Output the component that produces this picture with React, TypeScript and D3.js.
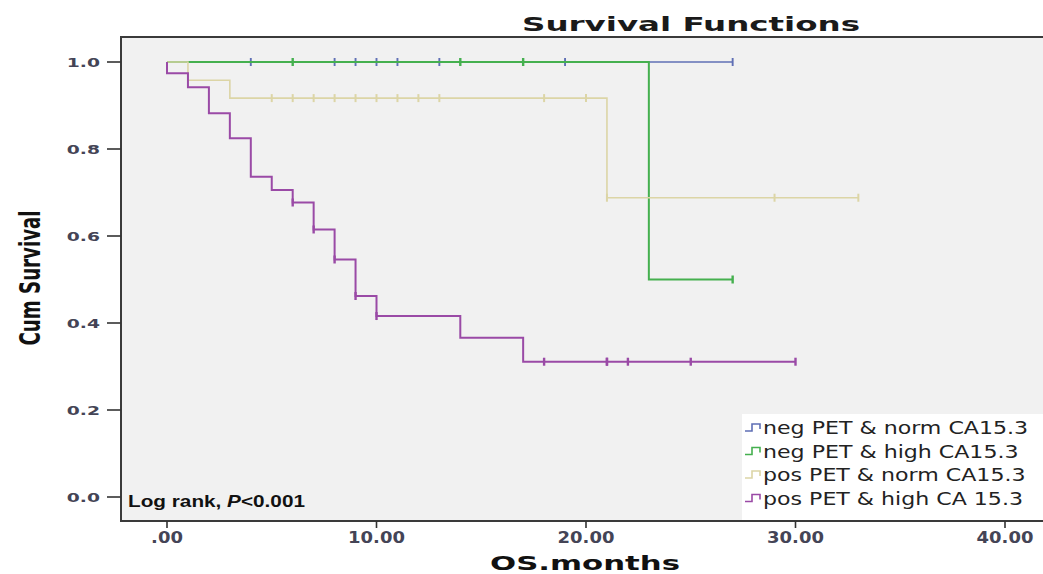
import * as d3 from "d3";

// survival steps (time in months, survival after the drop)
const blueEvents: [number, number][] = [];
const blueEnd = 27;
const blueCensor = [4, 8, 9, 10, 11, 13, 19, 27];

const greenEvents: [number, number][] = [[23, 0.5]];
const greenEnd = 27;
const greenCensor = [6, 14, 17, 27];

const tanEvents: [number, number][] = [[1, 0.958], [3, 0.917], [21, 0.688]];
const tanEnd = 33;
const tanCensor = [5, 6, 7, 8, 9, 10, 11, 12, 13, 18, 20, 21, 29, 33];

const purpleEvents: [number, number][] = [
  [0, 0.974], [1, 0.942], [2, 0.882], [3, 0.825], [4, 0.736], [5, 0.706],
  [6, 0.677], [7, 0.615], [8, 0.546], [9, 0.462], [10, 0.416], [14, 0.366], [17, 0.311],
];
const purpleEnd = 30;
const purpleCensor = [6, 7, 8, 9, 10, 18, 21, 21, 22, 25, 30];

const legendLabels = [
  "neg PET & norm CA15.3",
  "neg PET & high CA15.3",
  "pos PET & norm CA15.3",
  "pos PET & high CA 15.3",
];
const xTicks = [0, 10, 20, 30, 40];
const yTicks = [0, 0.2, 0.4, 0.6, 0.8, 1.0];

const W = 1043;
const H = 574;
const frame = { left: 121, top: 37, right: 1046, bottom: 521 };

const series = [
  { events: blueEvents, end: blueEnd, censor: blueCensor, color: "#5f6fb5", width: 1.5 },
  { events: greenEvents, end: greenEnd, censor: greenCensor, color: "#45b04f", width: 2 },
  { events: tanEvents, end: tanEnd, censor: tanCensor, color: "#dcd5a6", width: 1.6 },
  { events: purpleEvents, end: purpleEnd, censor: purpleCensor, color: "#9a4aa6", width: 2 },
];

function survivalAt(events: [number, number][], t: number) {
  let s = 1;
  for (const [et, es] of events) if (et <= t) s = es;
  return s;
}

export default function App() {
  const x = d3.scaleLinear().domain([0, 40]).range([167, 1005]);
  const y = d3.scaleLinear().domain([0, 1]).range([497, 62]);
  const line = d3
    .line<[number, number]>()
    .x((d) => x(d[0]))
    .y((d) => y(d[1]))
    .curve(d3.curveStepAfter);

  return (
    <div style={{ position: "absolute", left: 0, top: 0 }}>
      <svg width={W} height={H} style={{ display: "block", background: "#fff" }}>
        <rect
          x={frame.left}
          y={frame.top}
          width={frame.right - frame.left}
          height={frame.bottom - frame.top}
          fill="#f1f1f1"
          stroke="#3a3a3a"
          strokeWidth={2}
        />

        {/* title */}
        <text
          x={691}
          y={31}
          textAnchor="middle"
          fontFamily="DejaVu Sans"
          fontWeight="bold"
          fontSize={20}
          fill="#1a1a1a"
          textLength={338}
          lengthAdjust="spacingAndGlyphs"
        >
          Survival Functions
        </text>

        {/* y axis */}
        {yTicks.map((t) => (
          <g key={t}>
            <line x1={107} x2={frame.left} y1={y(t)} y2={y(t)} stroke="#333" strokeWidth={1.6} />
            <g transform={`translate(100,${y(t) + 4.5}) scale(1.5,1)`}>
              <text textAnchor="end" fontFamily="DejaVu Sans" fontWeight="bold" fontSize={12.5} fill="#444456">
                {t.toFixed(1)}
              </text>
            </g>
          </g>
        ))}
        <text
          transform="translate(40,278) rotate(-90)"
          textAnchor="middle"
          fontFamily="Liberation Sans Narrow, DejaVu Sans Condensed"
          fontWeight="bold"
          fontSize={28}
          fill="#111"
          textLength={135}
          lengthAdjust="spacingAndGlyphs"
        >
          Cum Survival
        </text>

        {/* x axis */}
        {xTicks.map((t) => (
          <g key={t}>
            <line x1={x(t)} x2={x(t)} y1={frame.bottom} y2={frame.bottom + 7} stroke="#333" strokeWidth={1.6} />
            <g transform={`translate(${x(t)},543) scale(1.2,1)`}>
              <text textAnchor="middle" fontFamily="DejaVu Sans" fontWeight="bold" fontSize={15} fill="#444456">
                {t === 0 ? ".00" : t.toFixed(2)}
              </text>
            </g>
          </g>
        ))}
        <text
          x={585}
          y={570}
          textAnchor="middle"
          fontFamily="DejaVu Sans"
          fontWeight="bold"
          fontSize={20}
          fill="#111"
          textLength={190}
          lengthAdjust="spacingAndGlyphs"
        >
          OS.months
        </text>

        {/* curves */}
        {series.map((s, i) => {
          const pts: [number, number][] = [[0, 1], ...s.events];
          pts.push([s.end, survivalAt(s.events, s.end)]);
          return (
            <g key={i}>
              <path d={line(pts) ?? ""} fill="none" stroke={s.color} strokeWidth={s.width} />
              {s.censor.map((c, j) => (
                <line
                  key={j}
                  x1={x(c)}
                  x2={x(c)}
                  y1={y(survivalAt(s.events, c)) - 4}
                  y2={y(survivalAt(s.events, c)) + 4}
                  stroke={s.color}
                  strokeWidth={s.width + 0.4}
                />
              ))}
            </g>
          );
        })}

        {/* log rank note */}
        <text
          x={128}
          y={507}
          fontFamily="Liberation Sans"
          fontWeight="bold"
          fontSize={17}
          fill="#111"
          textLength={177}
          lengthAdjust="spacingAndGlyphs"
        >
          Log rank, <tspan fontStyle="italic">P</tspan>&lt;0.001
        </text>

        {/* legend */}
        <rect x={742} y={414} width={310} height={106} fill="#ffffff" />
        {legendLabels.map((lab, i) => {
          const cy = 428 + i * 23.5;
          const c = series[i].color;
          return (
            <g key={lab}>
              <path
                d={`M745,${cy + 3} H752 V${cy - 4} H760 V${cy + 1}`}
                fill="none"
                stroke={c}
                strokeWidth={1.6}
              />
              <g transform={`translate(763,${cy + 6}) scale(1.3,1)`}>
                <text fontFamily="DejaVu Sans" fontSize={17} fill="#222">
                  {lab}
                </text>
              </g>
            </g>
          );
        })}
      </svg>
    </div>
  );
}
